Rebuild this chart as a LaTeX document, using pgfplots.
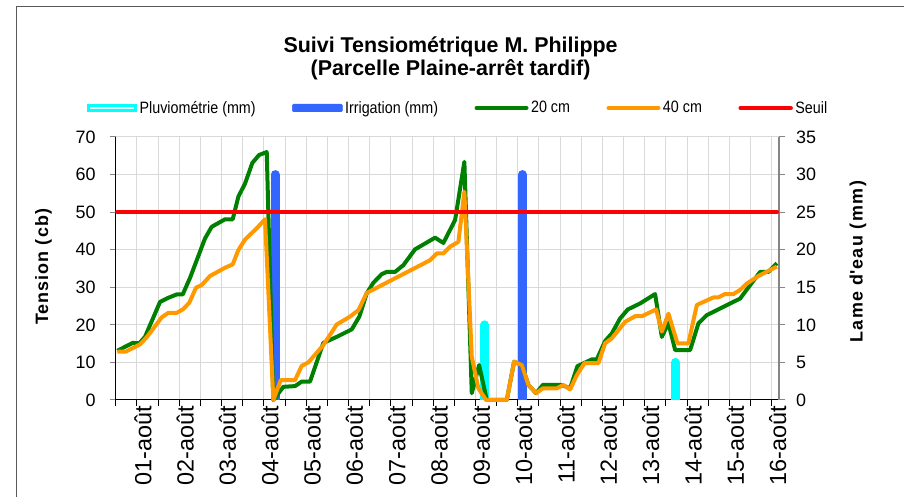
\documentclass[border=0pt]{standalone}
\usepackage{fontspec}
\setmainfont{Liberation Sans}
\newfontfamily\legfont[FakeStretch=0.87]{Liberation Sans}
\newfontfamily\ylabfont[LetterSpace=6]{Liberation Sans}
\newfontfamily\ylabfontR[LetterSpace=8.5]{Liberation Sans}
\usepackage{pgfplots}
\pgfplotsset{compat=1.18}
\definecolor{cvingt}{HTML}{008000}
\definecolor{cquar}{HTML}{FF9900}
\definecolor{cseuil}{HTML}{FF0000}
\definecolor{cirr}{HTML}{3366FF}
\definecolor{cpluv}{HTML}{00FFFF}
\definecolor{gridgray}{HTML}{D9D9D9}
\definecolor{axisgray}{HTML}{868686}
\definecolor{framegray}{HTML}{595959}
\begin{document}
\begin{tikzpicture}
\useasboundingbox (0bp,0bp) rectangle (904bp,497bp);
\draw[framegray, line width=1bp] (16bp,0bp) -- (16bp,490bp) -- (904bp,490bp);
% ---------- bars, grid, x axis, right axis ----------
\begin{axis}[
  at={(115.7bp,97bp)}, anchor=south west,
  scale only axis, width=663.3bp, height=263bp,
  xmin=0.5, xmax=16.17, ymin=0, ymax=35,
  axis x line*=bottom, axis y line*=right,
  x axis line style={-, black, line width=1bp},
  y axis line style={-, axisgray, line width=1.3bp},
  xtick={1,2,...,16}, minor xtick={0.5,1.5,...,15.5},
  xticklabels={01-août,02-août,03-août,04-août,05-août,06-août,07-août,08-août,09-août,10-août,11-août,12-août,13-août,14-août,15-août,16-août},
  ytick={0,5,...,35},
  tick align=outside, major tick length=6bp, minor tick length=6bp,
  xtick style={black, line width=1bp},
  every minor tick/.style={black, line width=1bp},
  ytick style={axisgray, line width=1bp},
  xmajorgrids, xminorgrids, ymajorgrids,
  grid style={gridgray, line width=1bp},
  xticklabel style={rotate=90, anchor=east, inner sep=0pt, yshift=-6bp, font=\fontsize{23.5}{23.5}\selectfont},
  yticklabel style={anchor=west, inner sep=0pt, xshift=11bp, font=\fontsize{18}{18}\selectfont},
  /pgf/number format/assume math mode=true,
  ylabel={\ylabfontR\bfseries Lame d\textquotesingle eau (mm)},
  every axis y label/.style={at={(axis description cs:1.1191,0.525)}, rotate=90, anchor=center, font=\fontsize{18}{18}\selectfont},
]
\addplot[ycomb, cpluv, line width=9bp, line cap=round] coordinates {(9.219,10) (13.72,5)};
\addplot[ycomb, cirr, line width=9bp, line cap=round] coordinates {(4.264,30) (10.105,30)};
\end{axis}
% ---------- tension lines, left axis ----------
\begin{axis}[
  at={(115.7bp,97bp)}, anchor=south west,
  scale only axis, width=663.3bp, height=263bp,
  xmin=0.5, xmax=16.17, ymin=0, ymax=70,
  axis y line*=left, hide x axis, clip=false,
  y axis line style={-, black, line width=1bp},
  ytick={0,10,...,70},
  tick align=outside, major tick length=6bp,
  ytick style={axisgray, line width=1bp},
  yticklabel style={anchor=east, inner sep=0pt, xshift=-14bp, font=\fontsize{18}{18}\selectfont},
  /pgf/number format/assume math mode=true,
  ylabel={\ylabfont\bfseries Tension (cb)},
  every axis y label/.style={at={(axis description cs:-0.1088,0.506)}, rotate=90, anchor=center, font=\fontsize{18}{18}\selectfont},
  title={Suivi Tensiométrique M. Philippe\\(Parcelle Plaine-arrêt tardif)},
  title style={font=\bfseries\fontsize{21.5}{23}\selectfont, align=center, at={(axis description cs:0.5048,1.2756)}, anchor=center},
  legend columns=5,
  legend image code/.code={\draw[#1, line cap=round] (0bp,0bp) -- (50bp,0bp);},
  legend style={at={(axis description cs:-0.0478,1.1103)}, anchor=west, draw=none, fill=none,
    font=\legfont\fontsize{16.5}{16.5}\selectfont,
    nodes={inner sep=2.5bp},
    /tikz/every even column/.append style={column sep=34bp}},
]
\addlegendimage{legend image code/.code={\draw[cpluv, line width=3bp, fill=cpluv!12] (1.5bp,-2.5bp) rectangle (48.5bp,2.5bp);}}
\addlegendentry{Pluviométrie (mm)}
\addlegendimage{legend image code/.code={\fill[cirr, rounded corners=1bp] (0bp,-3.8bp) rectangle (50bp,3.8bp);}}
\addlegendentry{Irrigation (mm)}
\addplot[cvingt, line width=4bp, line join=round] coordinates {
(0.538,13.1) (0.902,15.2) (1.058,15.1) (1.192,16.8) (1.547,26.1) (1.743,27.2)
(1.941,28.1) (2.083,28.1) (2.256,32.5) (2.610,43.0) (2.768,46.1) (3.083,48.1)
(3.265,48.1) (3.397,54.1) (3.555,57.6) (3.728,63.1) (3.886,65.2) (4.068,66.0)
(4.224,0) (4.460,3.5) (4.737,3.7) (4.895,4.9) (5.091,4.9) (5.405,15.2)
(5.722,16.8) (6.077,18.8) (6.256,22.2) (6.431,28.4) (6.587,31.2) (6.785,33.5)
(6.904,34.1) (7.100,34.1) (7.296,35.9) (7.572,40.1) (8.045,43.2) (8.241,41.8)
(8.518,47.9) (8.737,63.4) (8.912,1.8) (9.085,9.3) (9.267,0) (9.739,0)
(9.912,10.2) (10.094,9.3) (10.250,4.0) (10.432,1.8) (10.590,4.0) (11.039,4.0)
(11.235,3.1) (11.407,9.0) (11.748,10.8) (11.866,10.8) (12.062,15.7) (12.220,17.7)
(12.416,21.7) (12.598,24.1) (12.889,25.7) (13.243,28.2) (13.402,16.8) (13.558,20.5)
(13.716,13.3) (14.071,13.3) (14.267,20.4) (14.465,22.6) (15.252,27.0) (15.489,30.6)
(15.725,34.1) (15.921,34.1) (16.119,36.4)};
\addlegendentry{20 cm}
\addplot[cquar, line width=4bp, line join=round] coordinates {
(0.538,12.9) (0.743,12.9) (1.074,14.8) (1.233,16.7) (1.587,22.0) (1.743,23.2)
(1.941,23.2) (2.097,24.2) (2.239,25.9) (2.397,29.9) (2.532,30.6) (2.728,33.0)
(3.083,35.2) (3.265,36.1) (3.397,39.9) (3.555,42.7) (3.832,45.7) (4.028,48.1)
(4.224,0) (4.399,5.3) (4.737,5.3) (4.895,9.1) (5.051,10.0) (5.405,14.6)
(5.722,20.1) (6.036,22.2) (6.233,23.9) (6.431,28.5) (7.927,37.2) (8.085,39.0)
(8.241,39.0) (8.399,40.8) (8.596,42.1) (8.737,55.4) (8.912,11.5) (9.068,3.1)
(9.250,0) (9.739,0) (9.912,10.2) (10.094,9.3) (10.250,4.0) (10.432,1.8)
(10.590,3.1) (10.921,3.1) (11.077,4.0) (11.235,2.8) (11.393,6.6) (11.573,9.8)
(11.904,9.8) (12.062,15.1) (12.220,16.4) (12.535,20.8) (12.771,22.3) (12.929,22.3)
(13.267,24.1) (13.402,18.2) (13.558,23.0) (13.770,15.1) (14.030,15.1) (14.229,25.3)
(14.621,27.3) (14.732,27.3) (14.897,28.2) (15.094,28.2) (15.252,29.3) (15.410,31.0)
(15.684,33.0) (16.119,35.5)};
\addlegendentry{40 cm}
\addplot[cseuil, line width=4.5bp, line cap=round] coordinates {(0.538,50) (16.119,50)};
\addlegendentry{Seuil}
\end{axis}
\end{tikzpicture}
\end{document}
